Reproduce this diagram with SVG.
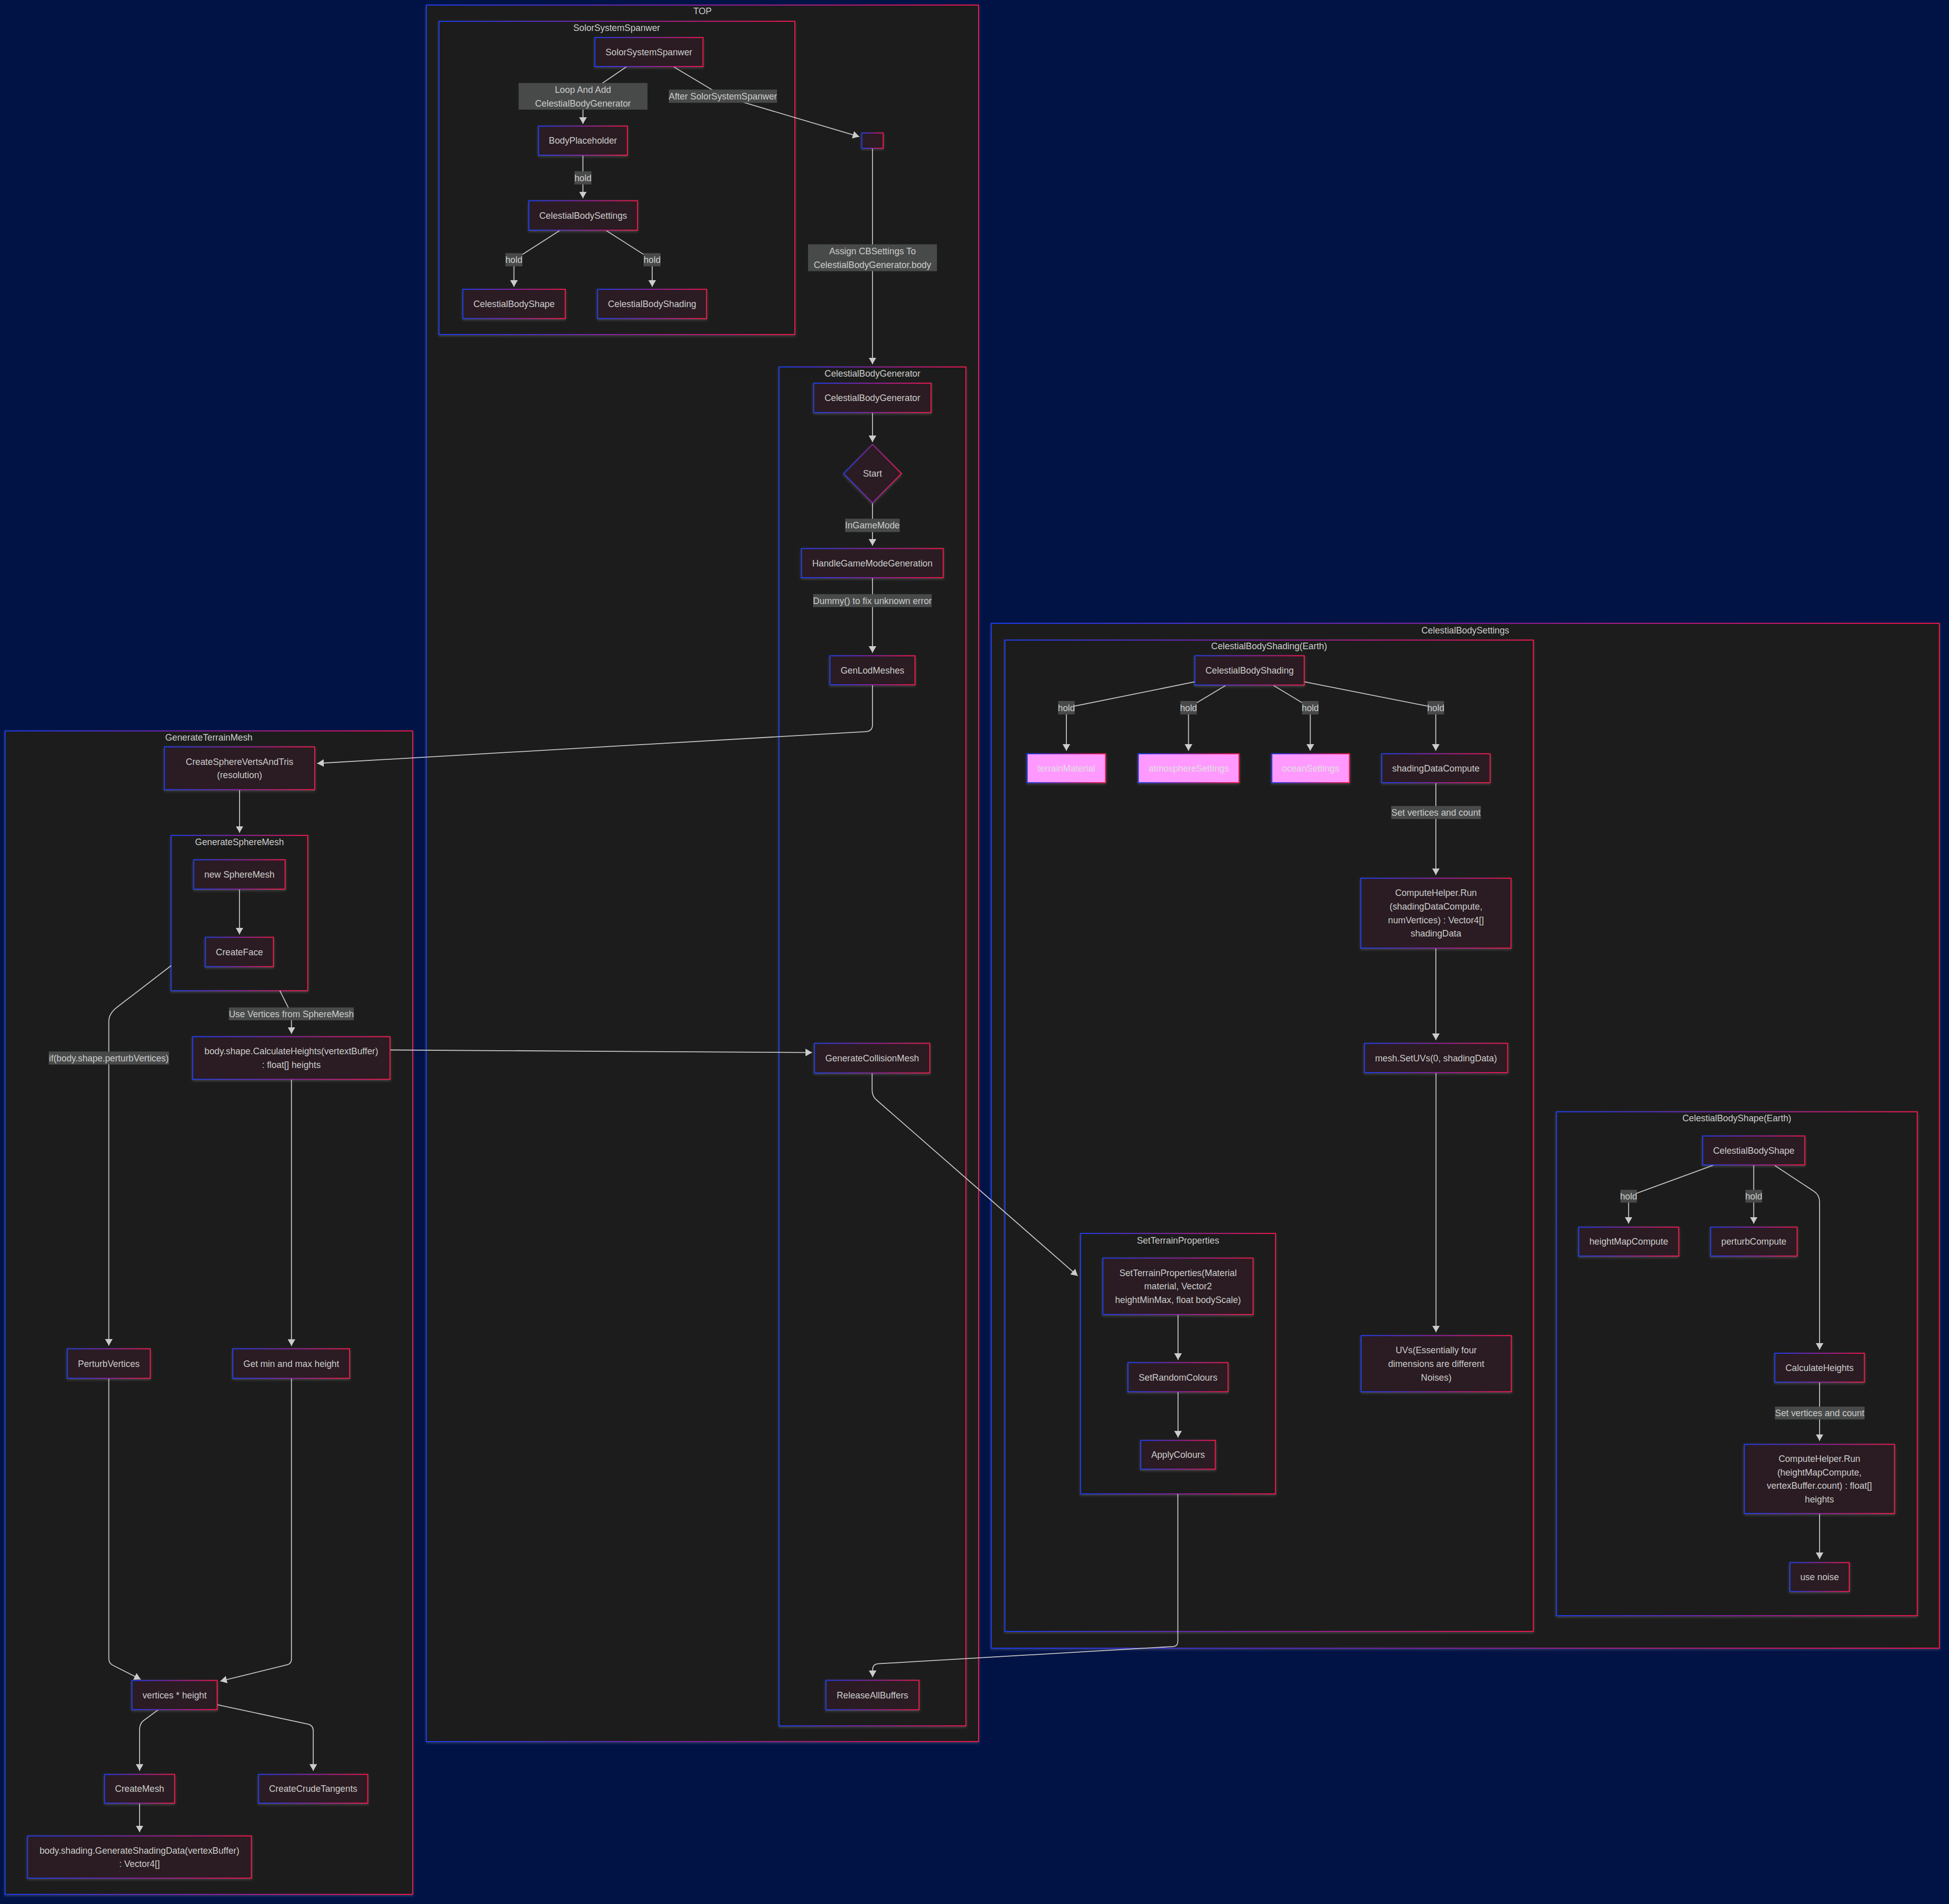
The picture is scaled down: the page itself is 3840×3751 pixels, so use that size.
<svg xmlns="http://www.w3.org/2000/svg" width="3840" height="3751" viewBox="0 0 3840 3751">
<defs>
<linearGradient id="g" x1="0" y1="0" x2="1" y2="0">
<stop offset="0" stop-color="#1a3cf0"/>
<stop offset="0.5" stop-color="#8a1fa0"/>
<stop offset="1" stop-color="#f0124a"/>
</linearGradient>
<filter id="sh" x="-10%" y="-10%" width="120%" height="130%">
<feDropShadow dx="0" dy="2" stdDeviation="2.5" flood-color="#aaaaaa" flood-opacity="0.3"/>
</filter>
<marker id="ah" markerUnits="userSpaceOnUse" markerWidth="14" markerHeight="16" refX="13" refY="7.5" orient="auto">
<path d="M0,0 L13,7.5 L0,15 z" fill="#cccccc"/>
</marker>
<style>
.cl{fill:#1f1f1f;stroke:url(#g);stroke-width:2;filter:url(#sh)}
.nd{fill:#2c1f20;stroke:url(#g);stroke-width:2;filter:url(#sh)}
.pk{fill:#ff99ff;stroke:url(#g);stroke-width:2;filter:url(#sh)}
.e{fill:none;stroke:#c8c8c8;stroke-width:1.8;marker-end:url(#ah)}
.lb{fill:#484a4a}
text{font-family:'Liberation Sans',Arial,sans-serif;font-size:17.8px;fill:#cccccc;text-anchor:middle}
.pt{fill:#e0e0e0}
</style>
</defs>
<rect width="3840" height="3751" fill="#011245"/>

<g id="clusters">
<g id="cluster-TOP"><rect class="cl" x="840" y="10" width="1088" height="3421"/><text x="1384" y="28">TOP</text></g>
<g id="cluster-GenerateTerrainMesh"><rect class="cl" x="10" y="1440" width="803" height="2292"/><text x="411.5" y="1458.8">GenerateTerrainMesh</text></g>
<g id="cluster-CelestialBodySettings"><rect class="cl" x="1953" y="1228" width="1868" height="2019"/><text x="2887" y="1247.7">CelestialBodySettings</text></g>
<g id="cluster-SolorSystemSpanwer"><rect class="cl" x="865" y="42" width="701" height="617"/><text x="1215" y="61.3">SolorSystemSpanwer</text></g>
<g id="cluster-CelestialBodyGenerator"><rect class="cl" x="1535" y="723" width="368" height="2677"/><text x="1719" y="742">CelestialBodyGenerator</text></g>
<g id="cluster-GenerateSphereMesh"><rect class="cl" x="337.3" y="1645.9" width="268.9" height="305.8"/><text x="471.8" y="1664.8">GenerateSphereMesh</text></g>
<g id="cluster-CelestialBodyShading"><rect class="cl" x="1980" y="1261" width="1041" height="1953"/><text x="2500.5" y="1279">CelestialBodyShading(Earth)</text></g>
<g id="cluster-SetTerrainProperties"><rect class="cl" x="2129" y="2430" width="384" height="513"/><text x="2321" y="2450">SetTerrainProperties</text></g>
<g id="cluster-CelestialBodyShape"><rect class="cl" x="3066.6" y="2190.3" width="710.8" height="992.7"/><text x="3422" y="2208.6">CelestialBodyShape(Earth)</text></g>
</g>

<g id="connectors">
<path class="e" d="M1235,131 L1148.6,190 L1148.6,244"/>
<path class="e" d="M1327.5,131.8 L1424,189.5 L1693,269.3"/>
<path class="e" d="M1148.5,305.7 L1148.5,390.5"/>
<path class="e" d="M1103,454 L1012.6,512 L1012.6,565"/>
<path class="e" d="M1194,454 L1285,512 L1285,565"/>
<path class="e" d="M1719,292.3 L1719,717.5"/>
<path class="e" d="M1719,812.7 L1719,871"/>
<path class="e" d="M1719,990.5 L1719,1075"/>
<path class="e" d="M1719,1138 L1719,1286"/>
<path class="e" d="M1719,1349 L1719,1428 Q1719,1440.5 1706,1441.3 L625,1504"/>
<path class="e" d="M1718.3,2113.7 L1718.3,2148 Q1718.5,2160 1727,2167 L2123.3,2513.6"/>
<path class="e" d="M2320.6,2943 L2320.6,3234 Q2320.6,3243.3 2311,3243.8 L1730,3277.7 Q1719.3,3278.5 1719.3,3290 L1719.3,3304"/>
<path class="e" d="M472,1555.7 L472,1640.5"/>
<path class="e" d="M471.8,1751.6 L471.8,1840.7"/>
<path class="e" d="M337.3,1902.3 L230,1984.7 Q214.4,1997 214.4,2012 L214.4,2651"/>
<path class="e" d="M551.3,1951.7 L574.3,1997.4 L574.3,2036.6"/>
<path class="e" d="M768.3,2068.5 L1600,2073.6"/>
<path class="e" d="M574.3,2126.3 L574.3,2651.4"/>
<path class="e" d="M214.4,2715.3 L214.4,3268 Q214.4,3278 225,3282 L277.2,3308.5"/>
<path class="e" d="M574.3,2715.3 L574.3,3268 Q574.3,3278 565,3280 L434,3312"/>
<path class="e" d="M311.2,3368.7 L282.4,3390 Q275,3396 275,3408 L275,3488.4"/>
<path class="e" d="M427.8,3358.4 L606.7,3396.6 Q617.2,3399 617.2,3410 L617.2,3488.4"/>
<path class="e" d="M275,3552.3 L275,3609.5"/>
<path class="e" d="M2321,2589.7 L2321,2679"/>
<path class="e" d="M2321,2741.8 L2321,2832"/>
<path class="e" d="M2354.3,1343.2 L2101,1394.3 L2101,1479"/>
<path class="e" d="M2414.6,1350.4 L2341.6,1394.3 L2341.6,1479"/>
<path class="e" d="M2509.3,1350.4 L2581.6,1394.3 L2581.6,1479"/>
<path class="e" d="M2569.6,1343.2 L2828.8,1394.3 L2828.8,1479"/>
<path class="e" d="M2829,1542 L2829,1723.7"/>
<path class="e" d="M2829,1867.8 L2829,2049"/>
<path class="e" d="M2829.3,2113 L2829.3,2624.5"/>
<path class="e" d="M3377.5,2294.9 L3208.7,2356.6 L3208.7,2410.6"/>
<path class="e" d="M3455.3,2294.9 L3455.3,2410.6"/>
<path class="e" d="M3496.9,2296.3 L3574,2347 Q3585,2354 3585,2368 L3585,2659"/>
<path class="e" d="M3585,2722.8 L3585,2838.5"/>
<path class="e" d="M3585,2981.7 L3585,3071.4"/>
</g>

<g id="edge-labels">
<g><rect class="lb" x="1021.7" y="163.5" width="254" height="52.5"/><text x="1148.6" y="182.9">Loop And Add</text><text x="1148.6" y="209.6">CelestialBodyGenerator</text></g>
<g><rect class="lb" x="1317.7" y="176.5" width="213.3" height="26"/><text x="1424.3" y="195.8">After SolorSystemSpanwer</text></g>
<g><rect class="lb" x="1131.8" y="337.4" width="33.5" height="26"/><text x="1148.5" y="356.7">hold</text></g>
<g><rect class="lb" x="995.7" y="498.7" width="33.5" height="26"/><text x="1012.5" y="518">hold</text></g>
<g><rect class="lb" x="1268" y="498.7" width="33.5" height="26"/><text x="1284.8" y="518">hold</text></g>
<g><rect class="lb" x="1592" y="481.3" width="254" height="53"/><text x="1719" y="500.9">Assign CBSettings To</text><text x="1719" y="527.6">CelestialBodyGenerator.body</text></g>
<g><rect class="lb" x="1665" y="1021.8" width="107.7" height="26.4"/><text x="1718.9" y="1041.3">InGameMode</text></g>
<g><rect class="lb" x="1602" y="1170.5" width="233.7" height="25.5"/><text x="1718.9" y="1189.5">Dummy() to fix unknown error</text></g>
<g><rect class="lb" x="96" y="2071.5" width="237" height="25.7"/><text x="214.5" y="2090.7">if(body.shape.perturbVertices)</text></g>
<g><rect class="lb" x="450.8" y="1984.7" width="246.4" height="25.3"/><text x="574" y="2003.7">Use Vertices from SphereMesh</text></g>
<g><rect class="lb" x="2084.9" y="1381" width="32.5" height="26.5"/><text x="2101.1" y="1400.5">hold</text></g>
<g><rect class="lb" x="2325.5" y="1381" width="32.5" height="26.5"/><text x="2341.7" y="1400.5">hold</text></g>
<g><rect class="lb" x="2565.4" y="1381" width="32.5" height="26.5"/><text x="2581.6" y="1400.5">hold</text></g>
<g><rect class="lb" x="2812.3" y="1381" width="33" height="26.5"/><text x="2828.8" y="1400.5">hold</text></g>
<g><rect class="lb" x="2741" y="1587.8" width="176.7" height="25.7"/><text x="2829.3" y="1607">Set vertices and count</text></g>
<g><rect class="lb" x="3192.6" y="2344" width="32.5" height="25.2"/><text x="3208.8" y="2362.9">hold</text></g>
<g><rect class="lb" x="3438.9" y="2344" width="32.8" height="25.2"/><text x="3455.3" y="2362.9">hold</text></g>
<g><rect class="lb" x="3497" y="2771.2" width="176.7" height="25.2"/><text x="3585.3" y="2790.1">Set vertices and count</text></g>
</g>

<g id="nodes">
<g id="n-SolorSystemSpanwer"><rect class="nd" x="1172" y="74" width="213" height="57"/><text x="1278.5" y="108.8">SolorSystemSpanwer</text></g>
<g id="n-BodyPlaceholder"><rect class="nd" x="1061" y="248.5" width="175" height="57.2"/><text x="1148.5" y="283.3">BodyPlaceholder</text></g>
<g id="n-CelestialBodySettings"><rect class="nd" x="1042" y="395.5" width="214" height="58"/><text x="1149" y="430.8">CelestialBodySettings</text></g>
<g id="n-CelestialBodyShape-top"><rect class="nd" x="912" y="570" width="201.6" height="57.5"/><text x="1012.8" y="605.1">CelestialBodyShape</text></g>
<g id="n-CelestialBodyShading-top"><rect class="nd" x="1177.4" y="570" width="214.6" height="57.5"/><text x="1284.7" y="605.1">CelestialBodyShading</text></g>
<g id="n-empty"><rect class="nd" x="1698" y="262" width="42" height="30"/></g>
<g id="n-CelestialBodyGenerator"><rect class="nd" x="1603.3" y="755" width="231" height="57.7"/><text x="1718.8" y="790.2">CelestialBodyGenerator</text></g>
<g id="n-Start"><polygon class="nd" points="1719,875.6 1776,933 1719,990.5 1662.3,933"/><text x="1719" y="939.3">Start</text></g>
<g id="n-HandleGameModeGeneration"><rect class="nd" x="1579.3" y="1080.7" width="279" height="57.3"/><text x="1718.8" y="1115.6">HandleGameModeGeneration</text></g>
<g id="n-GenLodMeshes"><rect class="nd" x="1635.3" y="1292" width="167.4" height="57"/><text x="1719" y="1326.8">GenLodMeshes</text></g>
<g id="n-GenerateCollisionMesh"><rect class="nd" x="1604.7" y="2055.5" width="227.2" height="58.2"/><text x="1718.3" y="2090.9">GenerateCollisionMesh</text></g>
<g id="n-ReleaseAllBuffers"><rect class="nd" x="1627.4" y="3310.3" width="183.2" height="58"/><text x="1719" y="3345.6">ReleaseAllBuffers</text></g>

<g id="n-CreateSphereVertsAndTris"><rect class="nd" x="324" y="1471.4" width="296" height="84.3"/><text x="472" y="1506.5">CreateSphereVertsAndTris</text><text x="472" y="1533.2">(resolution)</text></g>
<g id="n-newSphereMesh"><rect class="nd" x="381.8" y="1693.9" width="179.9" height="57.7"/><text x="471.8" y="1729">new SphereMesh</text></g>
<g id="n-CreateFace"><rect class="nd" x="404.8" y="1846.6" width="133.9" height="57.7"/><text x="471.8" y="1881.8">CreateFace</text></g>
<g id="n-CalculateHeights-terrain"><rect class="nd" x="379.7" y="2042.4" width="388.6" height="83.9"/><text x="574" y="2077.3">body.shape.CalculateHeights(vertextBuffer)</text><text x="574" y="2104">: float[] heights</text></g>
<g id="n-PerturbVertices"><rect class="nd" x="132.8" y="2657.3" width="163.2" height="58"/><text x="214.4" y="2692.6">PerturbVertices</text></g>
<g id="n-GetMinMax"><rect class="nd" x="458.7" y="2657.3" width="230.1" height="58"/><text x="573.8" y="2692.6">Get min and max height</text></g>
<g id="n-verticesHeight"><rect class="nd" x="260" y="3310.7" width="167.8" height="57.3"/><text x="343.9" y="3345.7">vertices * height</text></g>
<g id="n-CreateMesh"><rect class="nd" x="206" y="3495.7" width="138" height="56.6"/><text x="275" y="3530.3">CreateMesh</text></g>
<g id="n-CreateCrudeTangents"><rect class="nd" x="509.4" y="3495.7" width="215" height="56.6"/><text x="617" y="3530.3">CreateCrudeTangents</text></g>
<g id="n-GenerateShadingData"><rect class="nd" x="54.4" y="3616.9" width="440.9" height="83.1"/><text x="274.8" y="3651.5">body.shading.GenerateShadingData(vertexBuffer)</text><text x="274.8" y="3678.2">: Vector4[]</text></g>

<g id="n-SetTerrainProperties"><rect class="nd" x="2173" y="2478.6" width="295.8" height="111.1"/><text x="2321" y="2513.6">SetTerrainProperties(Material</text><text x="2321" y="2540.3">material, Vector2</text><text x="2321" y="2567">heightMinMax, float bodyScale)</text></g>
<g id="n-SetRandomColours"><rect class="nd" x="2222.5" y="2684.5" width="196.9" height="57.3"/><text x="2321" y="2719.5">SetRandomColours</text></g>
<g id="n-ApplyColours"><rect class="nd" x="2247.5" y="2837.7" width="146.9" height="56.7"/><text x="2321" y="2872.3">ApplyColours</text></g>
<g id="n-UVs"><rect class="nd" x="2681.9" y="2631.2" width="295.6" height="110.6"/><text x="2829.7" y="2666.1">UVs(Essentially four</text><text x="2829.7" y="2692.8">dimensions are different</text><text x="2829.7" y="2719.5">Noises)</text></g>

<g id="n-CelestialBodyShading"><rect class="nd" x="2354.3" y="1291.9" width="215.3" height="57.6"/><text x="2462" y="1327">CelestialBodyShading</text></g>
<g id="n-terrainMaterial"><rect class="pk" x="2023.8" y="1485" width="154.4" height="56.9"/><text class="pt" x="2101" y="1519.8">terrainMaterial</text></g>
<g id="n-atmosphereSettings"><rect class="pk" x="2242.7" y="1485" width="198.5" height="56.9"/><text class="pt" x="2342" y="1519.8">atmosphereSettings</text></g>
<g id="n-oceanSettings"><rect class="pk" x="2505.8" y="1485" width="152.9" height="56.9"/><text class="pt" x="2582.2" y="1519.8">oceanSettings</text></g>
<g id="n-shadingDataCompute"><rect class="nd" x="2722.5" y="1485" width="213.3" height="56.9"/><text x="2829.1" y="1519.8">shadingDataCompute</text></g>
<g id="n-ComputeHelper-shading"><rect class="nd" x="2681.3" y="1730.2" width="295.7" height="137.6"/><text x="2829.2" y="1765.3">ComputeHelper.Run</text><text x="2829.2" y="1792">(shadingDataCompute,</text><text x="2829.2" y="1818.7">numVertices) : Vector4[]</text><text x="2829.2" y="1845.4">shadingData</text></g>
<g id="n-SetUVs"><rect class="nd" x="2688.3" y="2055.5" width="282" height="57.5"/><text x="2829.3" y="2090.6">mesh.SetUVs(0, shadingData)</text></g>

<g id="n-CelestialBodyShape"><rect class="nd" x="3354.8" y="2238" width="201" height="56.9"/><text x="3455.3" y="2272.8">CelestialBodyShape</text></g>
<g id="n-heightMapCompute"><rect class="nd" x="3110.5" y="2417.6" width="196.9" height="56.9"/><text x="3209" y="2452.3">heightMapCompute</text></g>
<g id="n-perturbCompute"><rect class="nd" x="3370.4" y="2417.6" width="170.3" height="56.9"/><text x="3455.5" y="2452.3">perturbCompute</text></g>
<g id="n-CalculateHeights"><rect class="nd" x="3496.9" y="2666" width="176.3" height="56.8"/><text x="3585" y="2700.7">CalculateHeights</text></g>
<g id="n-ComputeHelper-shape"><rect class="nd" x="3436.9" y="2845.5" width="295.7" height="136.2"/><text x="3584.7" y="2879.9">ComputeHelper.Run</text><text x="3584.7" y="2906.6">(heightMapCompute,</text><text x="3584.7" y="2933.3">vertexBuffer.count) : float[]</text><text x="3584.7" y="2960">heights</text></g>
<g id="n-useNoise"><rect class="nd" x="3526.6" y="3078.5" width="116.9" height="56.8"/><text x="3585" y="3113.2">use noise</text></g>
</g>
</svg>
